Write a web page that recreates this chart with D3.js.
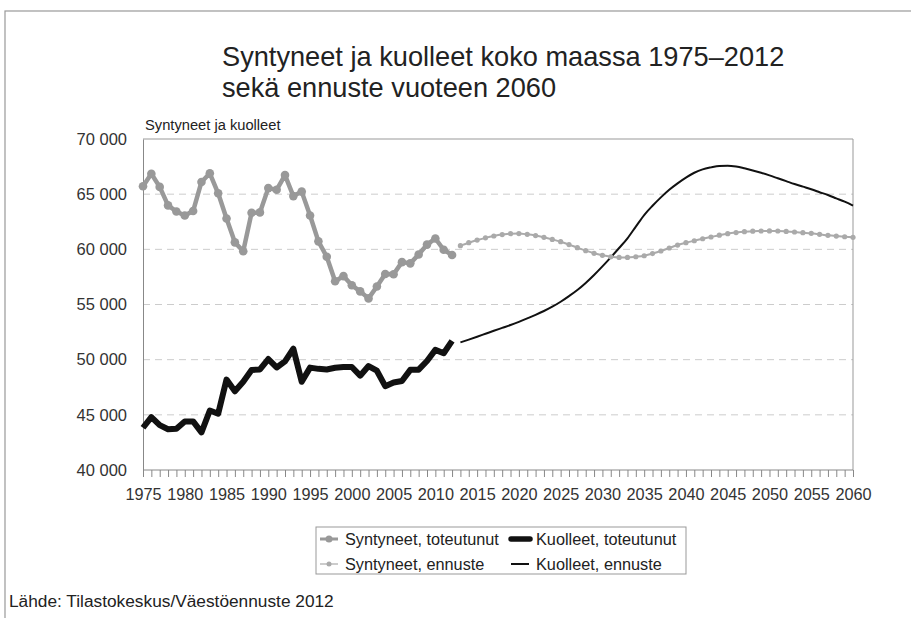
<!DOCTYPE html>
<meta charset="utf-8">
<style>
body {
	margin: 0;
	background-color: #ffffff;
	font-family: "Liberation Sans", Arial, sans-serif;
}
.axis text { fill: #333; }
</style>
<body>
<script src="https://cdn.jsdelivr.net/npm/d3@7"></script>
<script>
var width = 911, height = 618;

// syntyneet (births) and kuolleet (deaths), actual 1975-2012
var yearsActual = d3.range(1975, 2013);
var birthsActual = [65719, 66846, 65659, 63983, 63428, 63064, 63469, 66106, 66892, 65076,
	62796, 60632, 59827, 63316, 63348, 65549, 65395, 66731, 64826, 65231,
	63067, 60723, 59329, 57108, 57574, 56742, 56189, 55555, 56630, 57758,
	57745, 58840, 58729, 59530, 60430, 60980, 59961, 59493];
var deathsActual = [43828, 44786, 44065, 43692, 43738, 44398, 44404, 43408, 45388, 45098,
	48198, 47135, 48000, 49063, 49110, 50058, 49294, 49844, 50988, 48000,
	49280, 49167, 49108, 49262, 49345, 49339, 48550, 49418, 48996, 47600,
	47928, 48065, 49077, 49094, 49883, 50887, 50585, 51707];

// ennuste (forecast) 2013-2060
var yearsForecast = d3.range(2013, 2061);
var birthsForecast = [60330, 60600, 60840, 61040, 61210, 61340, 61420, 61430, 61360, 61250,
	61090, 60900, 60690, 60430, 60150, 59880, 59640, 59460, 59330, 59270,
	59270, 59330, 59420, 59620, 59850, 60120, 60390, 60600, 60780, 60960,
	61120, 61280, 61420, 61520, 61600, 61650, 61660, 61670, 61660, 61620,
	61570, 61510, 61450, 61360, 61270, 61200, 61140, 61090];
var deathsForecast = [51570, 51820, 52080, 52350, 52620, 52880, 53140, 53430, 53740, 54060,
	54410, 54800, 55250, 55760, 56310, 56950, 57670, 58450, 59270, 60120,
	61000, 62060, 63110, 63950, 64710, 65400, 65980, 66500, 66940, 67250,
	67430, 67560, 67580, 67500, 67340, 67150, 66940, 66700, 66440, 66180,
	65920, 65680, 65440, 65180, 64920, 64620, 64320, 63960];

var yTicks = [40000, 45000, 50000, 55000, 60000, 65000, 70000];
var xLabels = d3.range(1975, 2061, 5);

var titleLines = ["Syntyneet ja kuolleet koko maassa 1975\u20132012", "sekä ennuste vuoteen 2060"];
var legendItems = ["Syntyneet, toteutunut", "Kuolleet, toteutunut", "Syntyneet, ennuste", "Kuolleet, ennuste"];

var margin = {left: 143, right: 853, top: 139, bottom: 470};

var x = d3.scaleLinear().domain([1975, 2060]).range([margin.left, margin.right]);
var y = d3.scaleLinear().domain([40000, 70000]).range([margin.bottom, margin.top]);

var svg = d3.select('body').append('svg')
	.attr('width', width)
	.attr('height', height);

// outer frame
svg.append('rect')
	.attr('x', 5).attr('y', 11)
	.attr('width', width + 20).attr('height', height + 20)
	.style('fill', 'none').style('stroke', '#999').style('stroke-width', 1.2);

// title
svg.append('g').selectAll('text')
	.data(titleLines)
	.enter().append('text')
	.attr('x', 222)
	.attr('y', function(d, i) { return 66 + i * 31; })
	.style('font-size', '27.2px')
	.style('fill', '#222')
	.text(function(d) { return d; });

svg.append('text')
	.attr('x', 145).attr('y', 130)
	.style('font-size', '14.7px').style('fill', '#222')
	.text('Syntyneet ja kuolleet');

// gridlines
svg.append('g').selectAll('line')
	.data(yTicks.slice(1, -1))
	.enter().append('line')
	.attr('x1', margin.left).attr('x2', margin.right)
	.attr('y1', y).attr('y2', y)
	.style('stroke', '#ccc').style('stroke-dasharray', '7,5');

// plot frame top and right
svg.append('path')
	.attr('d', 'M' + margin.left + ',' + margin.top + 'H' + margin.right + 'V' + margin.bottom)
	.style('fill', 'none').style('stroke', '#999');

// y axis
var yAxis = d3.axisLeft(y).tickValues(yTicks).tickSize(0).tickPadding(16)
	.tickFormat(function(d) { return d3.format(',')(d).replace(',', ' '); });
var gy = svg.append('g').attr('class', 'axis')
	.attr('transform', 'translate(' + margin.left + ',0)')
	.call(yAxis);
gy.selectAll('text').style('font-size', '16.5px').style('font-family', '"Liberation Sans", Arial, sans-serif');
gy.select('.domain').style('stroke', '#888');

// x axis: a tick every year, labels every five
var xAxis = d3.axisBottom(x).tickValues(d3.range(1975, 2061)).tickSize(7).tickPadding(11)
	.tickFormat(function(d) { return xLabels.indexOf(d) >= 0 ? d : ''; });
var gx = svg.append('g').attr('class', 'axis')
	.attr('transform', 'translate(0,' + margin.bottom + ')')
	.call(xAxis);
gx.selectAll('text').style('font-size', '16.3px').style('font-family', '"Liberation Sans", Arial, sans-serif');
gx.selectAll('line').style('stroke', '#888');
gx.select('.domain').attr('d', 'M' + margin.left + ',0H' + margin.right).style('stroke', '#888');

var line = d3.line()
	.x(function(d) { return x(d[0]); })
	.y(function(d) { return y(d[1]); });

var birthsA = d3.zip(yearsActual, birthsActual);
var deathsA = d3.zip(yearsActual, deathsActual);
var birthsF = d3.zip(yearsForecast, birthsForecast);
var deathsF = d3.zip(yearsForecast, deathsForecast);

// deaths forecast
svg.append('path').datum(deathsF)
	.attr('d', line.curve(d3.curveMonotoneX))
	.style('fill', 'none').style('stroke', '#111').style('stroke-width', 2);

// births forecast
svg.append('path').datum(birthsF)
	.attr('d', line.curve(d3.curveMonotoneX))
	.style('fill', 'none').style('stroke', '#aaa').style('stroke-width', 2);
svg.append('g').selectAll('circle')
	.data(birthsF)
	.enter().append('circle')
	.attr('cx', function(d) { return x(d[0]); })
	.attr('cy', function(d) { return y(d[1]); })
	.attr('r', 2.6)
	.style('fill', '#aaa');

line.curve(d3.curveLinear);

// births actual
svg.append('path').datum(birthsA)
	.attr('d', line)
	.style('fill', 'none').style('stroke', '#999').style('stroke-width', 4.5)
	.style('stroke-linejoin', 'round');
svg.append('g').selectAll('circle')
	.data(birthsA)
	.enter().append('circle')
	.attr('cx', function(d) { return x(d[0]); })
	.attr('cy', function(d) { return y(d[1]); })
	.attr('r', 4.3)
	.style('fill', '#999');

// deaths actual
svg.append('path').datum(deathsA)
	.attr('d', line)
	.style('fill', 'none').style('stroke', '#111').style('stroke-width', 6)
	.style('stroke-linejoin', 'round');

// legend
var lg = svg.append('g');
lg.append('rect')
	.attr('x', 316).attr('y', 527).attr('width', 370).attr('height', 47)
	.style('fill', '#fff').style('stroke', '#999');

var legendPos = [[320, 539], [511, 539], [320, 564], [511, 564]];
var row = lg.selectAll('g.item')
	.data(legendItems)
	.enter().append('g')
	.attr('class', 'item')
	.attr('transform', function(d, i) { return 'translate(' + legendPos[i][0] + ',' + legendPos[i][1] + ')'; });

row.append('text')
	.attr('x', 25).attr('dy', '0.35em')
	.style('font-size', '16.3px').style('fill', '#222')
	.text(function(d) { return d; });

// symbols
row.filter(function(d, i) { return i == 0; }).call(function(g) {
	g.append('line').attr('x1', 0).attr('x2', 18).style('stroke', '#999').style('stroke-width', 3);
	g.append('circle').attr('cx', 9).attr('r', 3.5).style('fill', '#999');
});
row.filter(function(d, i) { return i == 1; })
	.append('line').attr('x1', 0).attr('x2', 19).style('stroke', '#111').style('stroke-width', 5.5)
	.style('stroke-linecap', 'round');
row.filter(function(d, i) { return i == 2; }).call(function(g) {
	g.append('line').attr('x1', 0).attr('x2', 18).style('stroke', '#bbb').style('stroke-width', 1.5);
	g.append('circle').attr('cx', 9).attr('r', 2.5).style('fill', '#aaa');
});
row.filter(function(d, i) { return i == 3; })
	.append('line').attr('x1', 0).attr('x2', 18).style('stroke', '#111').style('stroke-width', 2);

// source
svg.append('text')
	.attr('x', 9).attr('y', 607)
	.style('font-size', '17.3px').style('fill', '#222')
	.text('Lähde: Tilastokeskus/Väestöennuste 2012');
</script>
</body>
